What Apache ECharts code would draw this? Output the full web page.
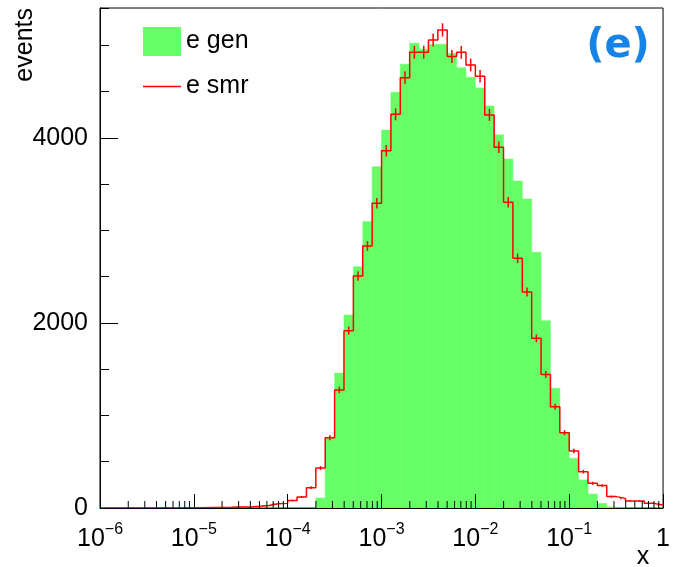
<!DOCTYPE html>
<html>
<head>
<meta charset="utf-8">
<script src="https://cdn.jsdelivr.net/npm/echarts@6/dist/echarts.min.js"></script>
<style>
html, body { margin: 0; padding: 0; background: #fff; }
#chart { width: 673px; height: 567px; }
</style>
</head>
<body>
<div id="chart"></div>
<script>
// binning: 60 log bins, 10 per decade, 1e-6 .. 1
const xMin = 1e-6, xMax = 1, nBins = 60;
const yMax = 5405;

// counts per bin
const genCounts = [
  0, 0, 0, 0, 0, 0, 0, 0, 0, 0,
  0, 0, 0, 0, 0, 0, 0, 0, 0, 0,
  0, 0, 0, 108, 765, 1459, 2086, 2609, 3096, 3690,
  4086, 4494, 4797, 5025, 4960, 5010, 5013, 4915, 4760, 4656,
  4540, 4346, 4035, 3773, 3535, 3341, 2764, 2025, 1294, 810,
  537, 303, 151, 50, 12, 0, 0, 0, 0, 0
];
const smrCounts = [
  0, 1, 0, 1, 1, 1, 2, 1, 2, 2,
  4, 5, 6, 7, 11, 12, 18, 26, 45, 50,
  80, 119, 220, 432, 760, 1276, 1917, 2508, 2832, 3294,
  3863, 4256, 4652, 4926, 4926, 5059, 5168, 4880, 4926, 4789,
  4667, 4249, 3900, 3305, 2699, 2335, 1834, 1444, 1095, 814,
  616, 393, 267, 242, 123, 104, 76, 76, 50, 32
];

const decades = [-6, -5, -4, -3, -2, -1];
const minorMult = [2, 3, 4, 5, 6, 7, 8, 9];

const step = (Math.log10(xMax) - Math.log10(xMin)) / nBins;
const edges = [];
for (let k = 0; k <= nBins; k++) edges.push(Math.pow(10, Math.log10(xMin) + k * step));

const genData = genCounts.map((v, k) => [edges[k], edges[k + 1], v]);
const smrLine = smrCounts.map((v, k) => [edges[k], v]);
smrLine.push([edges[nBins], smrCounts[nBins - 1]]);
const smrErr = smrCounts.map((v, k) => [Math.sqrt(edges[k] * edges[k + 1]), v, Math.sqrt(v)])
  .filter(d => d[1] > 0);
const minorTicks = [];
decades.forEach(d => minorMult.forEach(m => minorTicks.push([m * Math.pow(10, d), 0])));

const FONT = '"Liberation Sans", Arial, sans-serif';

function renderBin(params, api) {
  const a = api.coord([api.value(0), 0]);
  const b = api.coord([api.value(1), api.value(2)]);
  return {
    type: 'rect',
    shape: { x: a[0], y: b[1], width: b[0] - a[0], height: a[1] - b[1] },
    style: { fill: api.visual('color'), stroke: api.visual('color'), lineWidth: 0.5 }
  };
}
function renderErr(params, api) {
  const c = api.value(0), v = api.value(1), e = api.value(2);
  const p0 = api.coord([c, v - e]);
  const p1 = api.coord([c, v + e]);
  return {
    type: 'line',
    shape: { x1: p0[0], y1: p0[1], x2: p1[0], y2: p1[1] },
    style: { stroke: '#ff0000', lineWidth: 1.5 }
  };
}
function renderTick(params, api) {
  const p = api.coord([api.value(0), 0]);
  return {
    type: 'line',
    shape: { x1: p[0], y1: p[1], x2: p[0], y2: p[1] - 7 },
    style: { stroke: '#000', lineWidth: 1 }
  };
}

const chart = echarts.init(document.getElementById('chart'));
chart.setOption({
  animation: false,
  grid: { left: 100, right: 7, top: 8, bottom: 59, show: true, borderColor: '#000', borderWidth: 1 },
  legend: {
    orient: 'vertical', left: 143, top: 27, padding: 0,
    itemWidth: 38, itemHeight: 29, itemGap: 18,
    textStyle: { fontFamily: FONT, fontSize: 25, color: '#000' },
    data: [
      { name: 'e gen', icon: 'rect' },
      { name: 'e smr', icon: 'path://M0,0 L38,0 L38,1.5 L0,1.5 Z' }
    ]
  },
  xAxis: {
    type: 'log', logBase: 10, min: xMin, max: xMax, interval: 1, z: 10,
    axisLine: { lineStyle: { color: '#000', width: 1 } },
    axisTick: { inside: true, length: 14, lineStyle: { color: '#000' } },
    splitLine: { show: false },
    axisLabel: {
      margin: 14,
      formatter: v => {
        const ex = Math.round(Math.log10(v));
        if (ex === 0) return '{c|1}';
        return '{b|10}{s|' + (ex < 0 ? '\u2212' : '') + Math.abs(ex) + '}';
      },
      rich: {
        b: { fontFamily: FONT, fontSize: 25, color: '#000' },
        c: { fontFamily: FONT, fontSize: 25, color: '#000', padding: [5, 0, 5, 0] },
        s: { fontFamily: FONT, fontSize: 16, color: '#000', padding: [0, 0, 19, 0] }
      }
    }
  },
  yAxis: [
    {
      type: 'value', min: 0, max: yMax, interval: 2000, position: 'left', z: 10,
      axisLine: { show: true, lineStyle: { color: '#000', width: 1 } },
      axisTick: { show: true, inside: true, length: 18, lineStyle: { color: '#000' } },
      splitLine: { show: false },
      axisLabel: {
        margin: 12, showMaxLabel: false, fontFamily: FONT, fontSize: 25, color: '#000',
        formatter: v => String(v)
      }
    },
    {
      type: 'value', min: 0, max: yMax, interval: 500, position: 'left', z: 10,
      axisLine: { show: false },
      axisTick: { show: true, inside: true, length: 9, lineStyle: { color: '#000' } },
      splitLine: { show: false },
      axisLabel: { show: false }
    }
  ],
  graphic: [
    { type: 'text', x: 25, y: 8, rotation: Math.PI / 2,
      style: { text: 'events', font: '25px ' + FONT, fill: '#000', align: 'right', verticalAlign: 'middle' } },
    { type: 'text', x: 643, y: 557,
      style: { text: 'x', font: '25px ' + FONT, fill: '#000', align: 'center', verticalAlign: 'middle' } },
    { type: 'text', x: 618, y: 47,
      style: { text: '(e)', font: 'bold 40px "DejaVu Sans", sans-serif', fill: '#1684e6', align: 'center', verticalAlign: 'middle' } }
  ],
  series: [
    {
      name: 'e gen', type: 'custom', renderItem: renderBin, z: 2,
      itemStyle: { color: '#66ff66' },
      encode: { x: [0, 1], y: 2 },
      data: genData
    },
    {
      name: 'e smr', type: 'line', step: 'end', symbol: 'none', z: 3,
      itemStyle: { color: '#ff0000' },
      lineStyle: { color: '#ff0000', width: 1.5 },
      data: smrLine
    },
    {
      name: 'smr err', type: 'custom', renderItem: renderErr, z: 4, silent: true,
      encode: { x: 0, y: 1 },
      data: smrErr
    },
    {
      name: 'minor ticks', type: 'custom', renderItem: renderTick, z: 11, silent: true,
      encode: { x: 0, y: 1 },
      data: minorTicks
    }
  ]
});
</script>
</body>
</html>
